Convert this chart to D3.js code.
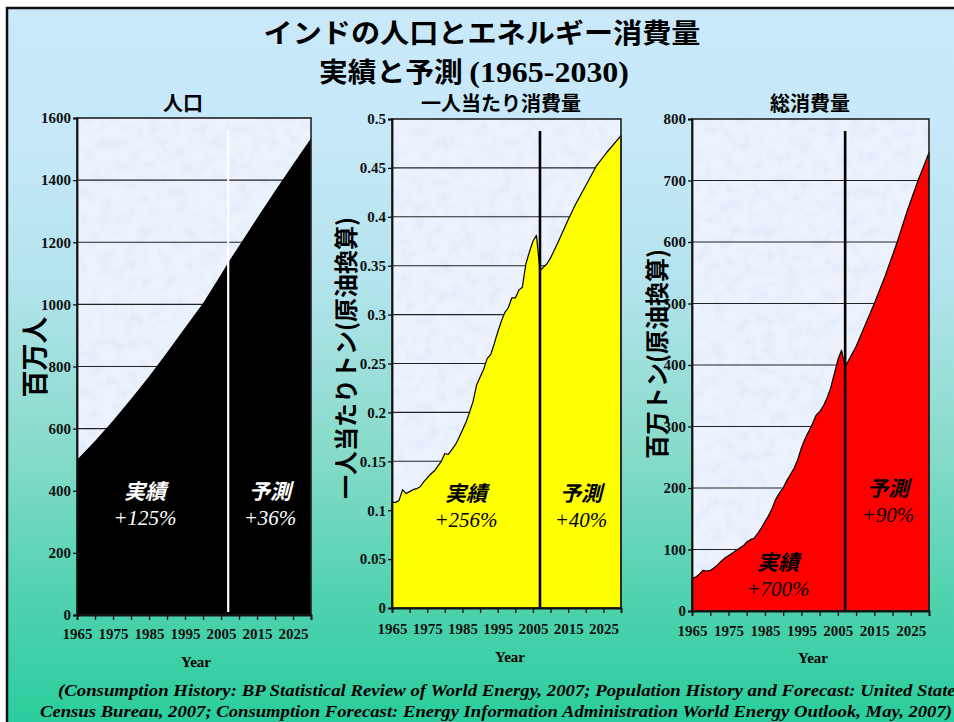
<!DOCTYPE html>
<html>
<head>
<meta charset="utf-8">
<script src="https://cdn.jsdelivr.net/npm/d3@7"></script>
<style>
  html, body { margin: 0; padding: 0; background: #fff; }
  svg { display: block; }
  .jp { font-family: "Noto Sans CJK JP", "Noto Sans", sans-serif; font-weight: 700; }
  .num { font-family: "Liberation Serif", "Times New Roman", serif; }
  .axis text { font-family: "Liberation Serif", "Times New Roman", serif; font-weight: 700; font-size: 15px; fill: #111; }
</style>
</head>
<body>
<svg id="chart" width="954" height="722"></svg>
<script>
// ---- Population of India (million people) ----
const popActualYears   = [1965, 1970, 1975, 1980, 1985, 1990, 1995, 2000, 2005, 2007];
const popActual        = [500, 560, 625, 695, 768, 845, 925, 1004, 1096, 1135];
const popForecastYears = [2007, 2010, 2015, 2020, 2025, 2030];
const popForecast      = [1135, 1188, 1277, 1365, 1450, 1535];

// ---- Per-capita consumption (tonnes of oil equivalent per person) ----
const pcActualYears = [1965, 1966, 1967, 1968, 1969, 1970, 1971, 1972, 1973, 1974,
                       1975, 1976, 1977, 1978, 1979, 1980, 1981, 1982, 1983, 1984,
                       1985, 1986, 1987, 1988, 1989, 1990, 1991, 1992, 1993, 1994,
                       1995, 1996, 1997, 1998, 1999, 2000, 2001, 2002, 2003, 2004,
                       2005, 2006];
const pcActual = [0.108, 0.108, 0.110, 0.121, 0.117, 0.119, 0.121, 0.122, 0.124, 0.129,
                  0.133, 0.137, 0.140, 0.145, 0.150, 0.158, 0.157, 0.162, 0.167, 0.174,
                  0.182, 0.190, 0.200, 0.211, 0.228, 0.236, 0.244, 0.255, 0.259, 0.270,
                  0.282, 0.293, 0.302, 0.307, 0.317, 0.317, 0.325, 0.328, 0.352, 0.364,
                  0.375, 0.381];
const pcForecastYears = [2007, 2009, 2010, 2012, 2015, 2017, 2020, 2023, 2026, 2030];
const pcForecast      = [0.345, 0.352, 0.358, 0.373, 0.397, 0.412, 0.432, 0.452, 0.466, 0.483];

// ---- Total consumption (million tonnes of oil equivalent) ----
const totActualYears = pcActualYears;
const totActual = [53, 55, 60, 66, 65, 66, 70, 75, 81, 86,
                   90, 94, 98, 102, 106, 112, 116, 118, 126, 135,
                   145, 155, 167, 182, 192, 200, 212, 222, 232, 246,
                   265, 280, 292, 304, 318, 324, 333, 346, 362, 385,
                   408, 424];
const totForecastYears = [2007, 2008, 2010, 2012, 2015, 2018, 2021, 2024, 2027, 2030];
const totForecast      = [397, 408, 430, 458, 500, 545, 595, 650, 700, 745];

// ---- Axis ticks ----
const xTickYears  = [1965, 1970, 1975, 1980, 1985, 1990, 1995, 2000, 2005, 2010, 2015, 2020, 2025, 2030];
const xTickLabels = ["1965", "1975", "1985", "1995", "2005", "2015", "2025"];
const popTicks = ["0", "200", "400", "600", "800", "1000", "1200", "1400", "1600"];
const pcTicks  = ["0", "0.05", "0.1", "0.15", "0.2", "0.25", "0.3", "0.35", "0.4", "0.45", "0.5"];
const totTicks = ["0", "100", "200", "300", "400", "500", "600", "700", "800"];

const splitYear = 2007;

// ---- Text ----
const titleLine1 = "インドの人口とエネルギー消費量";
const titleLine2a = "実績と予測 ";
const titleLine2b = "(1965-2030)";
const sourceLine1 = "(Consumption History: BP Statistical Review of World Energy, 2007; Population History and Forecast: United States";
const sourceLine2 = "Census Bureau, 2007; Consumption Forecast: Energy Information Administration World Energy Outlook, May, 2007)";

const svg = d3.select("#chart");
const defs = svg.append("defs");

// slide background gradient
const grad = defs.append("linearGradient").attr("id", "bg").attr("x1", 0).attr("y1", 0).attr("x2", 0).attr("y2", 1);
[[0, "#c9e9fb"], [0.18, "#c6e8f8"], [0.38, "#b2e3ec"], [0.6, "#86dbc9"], [0.8, "#4fd2ae"], [1, "#22cc99"]]
  .forEach(([o, c]) => grad.append("stop").attr("offset", o).attr("stop-color", c));

// fine mottled paper texture for the plot areas
const f = defs.append("filter").attr("id", "paper")
  .attr("x", 0).attr("y", 0).attr("width", 1).attr("height", 1);
f.append("feTurbulence").attr("type", "fractalNoise").attr("baseFrequency", 0.08)
  .attr("numOctaves", 4).attr("seed", 5).attr("result", "n");
f.append("feColorMatrix").attr("in", "n").attr("type", "matrix")
  .attr("values", "0 0 0 0 0.74  0 0 0 0 0.82  0 0 0 0 0.96  1.8 0 0 0 -0.74");

svg.append("rect").attr("width", 954).attr("height", 722).attr("fill", "#fff");
svg.append("rect").attr("x", 7).attr("y", 8).attr("width", 980).attr("height", 740)
  .attr("fill", "url(#bg)").attr("stroke", "#111").attr("stroke-width", 2.5);

// main title
svg.append("text").attr("class", "jp").attr("x", 482).attr("y", 43)
  .attr("text-anchor", "middle").attr("font-size", 27).attr("fill", "#000")
  .attr("textLength", 437).attr("lengthAdjust", "spacingAndGlyphs").text(titleLine1);
const t2 = svg.append("text").attr("x", 474).attr("y", 82).attr("text-anchor", "middle").attr("fill", "#000")
  .attr("textLength", 310).attr("lengthAdjust", "spacingAndGlyphs");
t2.append("tspan").attr("class", "jp").attr("font-size", 27).text(titleLine2a);
t2.append("tspan").attr("class", "num").attr("font-weight", 700).attr("font-size", 30).text(titleLine2b);

function zip(xs, ys) { return xs.map((x, i) => ({ year: x, value: ys[i] })); }

function drawPanel(cfg) {
  const x = d3.scaleLinear().domain([1965, 2030]).range([cfg.left, cfg.right]);
  const tickVals = cfg.ticks.map(Number);
  const yMax = d3.max(tickVals);
  const y = d3.scaleLinear().domain([0, yMax]).range([cfg.bottom, cfg.top]);
  const g = svg.append("g");
  const w = cfg.right - cfg.left, h = cfg.bottom - cfg.top;

  // plot background
  g.append("rect").attr("x", cfg.left).attr("y", cfg.top).attr("width", w).attr("height", h).attr("fill", "#edf3fd");
  g.append("rect").attr("x", cfg.left).attr("y", cfg.top).attr("width", w).attr("height", h)
    .attr("fill", "#fff").attr("filter", "url(#paper)");

  // gridlines
  g.append("g").selectAll("line").data(tickVals.filter(v => v > 0 && v < yMax)).join("line")
    .attr("x1", cfg.left).attr("x2", cfg.right)
    .attr("y1", d => y(d)).attr("y2", d => y(d))
    .attr("stroke", "#222").attr("stroke-width", 1.1);

  // area: actual followed by forecast
  const series = zip(cfg.actualYears, cfg.actual).concat(zip(cfg.forecastYears, cfg.forecast));
  const area = d3.area().x(d => x(d.year)).y0(cfg.bottom).y1(d => y(d.value));
  g.append("path").datum(series).attr("d", area).attr("fill", cfg.fill)
    .attr("stroke", cfg.stroke || "none").attr("stroke-width", 1.2).attr("stroke-linejoin", "round");

  // divider between actual and forecast
  g.append("line").attr("x1", x(splitYear)).attr("x2", x(splitYear))
    .attr("y1", cfg.top + 12).attr("y2", cfg.bottom - (cfg.lineColor === "#fff" ? 3 : 0))
    .attr("stroke", cfg.lineColor).attr("stroke-width", cfg.lineColor === "#fff" ? 2.2 : 2.6);

  // frame
  g.append("rect").attr("x", cfg.left).attr("y", cfg.top).attr("width", w).attr("height", h)
    .attr("fill", "none").attr("stroke", "#222").attr("stroke-width", 1.6);

  // axes
  const yAxis = d3.axisLeft(y).tickValues(tickVals).tickFormat((d, i) => cfg.ticks[i])
    .tickSize(4).tickPadding(2);
  const ya = g.append("g").attr("class", "axis").attr("transform", `translate(${cfg.left},0)`).call(yAxis);
  const xAxis = d3.axisBottom(x).tickValues(xTickYears)
    .tickFormat(d => xTickLabels.includes(String(d)) ? String(d) : "")
    .tickSize(5).tickPadding(cfg.xPad);
  const xa = g.append("g").attr("class", "axis").attr("transform", `translate(0,${cfg.bottom})`).call(xAxis);
  [ya, xa].forEach(a => {
    a.select(".domain").attr("stroke", "#111").attr("stroke-width", 1.8);
    a.selectAll(".tick line").attr("stroke", "#111").attr("stroke-width", 1.3);
  });

  // axis titles
  g.append("text").attr("class", "num").attr("font-weight", 700).attr("font-size", 15)
    .attr("x", cfg.yearX).attr("y", cfg.yearY).attr("text-anchor", "middle").text("Year");
  g.append("text").attr("class", "jp").attr("font-size", cfg.yTitleSize)
    .attr("text-anchor", "middle").attr("dominant-baseline", "central")
    .attr("transform", `translate(${cfg.yTitleX},${cfg.yTitleY}) rotate(-90)`).text(cfg.yTitle);
  g.append("text").attr("class", "jp").attr("font-size", 20).attr("x", cfg.titleX).attr("y", 111)
    .attr("text-anchor", "middle").text(cfg.title);

  // annotations
  cfg.notes.forEach(n => {
    g.append("text").attr("class", "jp").attr("font-style", "italic").attr("font-size", 21)
      .attr("fill", cfg.noteColor).attr("x", n.x).attr("y", n.y).attr("text-anchor", "middle").text(n.label);
    g.append("text").attr("class", "num").attr("font-style", "italic").attr("font-size", 21)
      .attr("fill", cfg.noteColor).attr("x", n.x).attr("y", n.y + 26).attr("text-anchor", "middle").text(n.pct);
  });
}

drawPanel({
  left: 77, right: 311, top: 118, bottom: 615, ticks: popTicks,
  actualYears: popActualYears, actual: popActual, forecastYears: popForecastYears, forecast: popForecast,
  fill: "#000", lineColor: "#fff", xPad: 8, yearX: 196, yearY: 667,
  title: "人口", titleX: 183, yTitle: "百万人", yTitleSize: 27, yTitleX: 33, yTitleY: 357,
  noteColor: "#fff",
  notes: [{ x: 145, y: 499, label: "実績", pct: "+125%" }, { x: 270, y: 499, label: "予測", pct: "+36%" }]
});

drawPanel({
  left: 392, right: 621, top: 119, bottom: 608, ticks: pcTicks,
  actualYears: pcActualYears, actual: pcActual, forecastYears: pcForecastYears, forecast: pcForecast,
  fill: "#ffff00", stroke: "#000", lineColor: "#000", xPad: 10, yearX: 510, yearY: 662,
  title: "一人当たり消費量", titleX: 501, yTitle: "一人当たりトン(原油換算)", yTitleSize: 24, yTitleX: 344, yTitleY: 358,
  noteColor: "#000",
  notes: [{ x: 466, y: 501, label: "実績", pct: "+256%" }, { x: 581, y: 501, label: "予測", pct: "+40%" }]
});

drawPanel({
  left: 692, right: 929, top: 119, bottom: 611, ticks: totTicks,
  actualYears: totActualYears, actual: totActual, forecastYears: totForecastYears, forecast: totForecast,
  fill: "#ff0000", stroke: "#000", lineColor: "#000", xPad: 9, yearX: 813, yearY: 663,
  title: "総消費量", titleX: 810, yTitle: "百万トン(原油換算)", yTitleSize: 24, yTitleX: 655, yTitleY: 354,
  noteColor: "#000",
  notes: [{ x: 778, y: 570, label: "実績", pct: "+700%" }, { x: 888, y: 496, label: "予測", pct: "+90%" }]
});

// source note
svg.append("text").attr("class", "num").attr("font-style", "italic").attr("font-weight", 700)
  .attr("font-size", 17).attr("x", 58).attr("y", 696)
  .attr("textLength", 905).attr("lengthAdjust", "spacingAndGlyphs").text(sourceLine1);
svg.append("text").attr("class", "num").attr("font-style", "italic").attr("font-weight", 700)
  .attr("font-size", 17).attr("x", 40).attr("y", 717)
  .attr("textLength", 912).attr("lengthAdjust", "spacingAndGlyphs").text(sourceLine2);
</script>
</body>
</html>
